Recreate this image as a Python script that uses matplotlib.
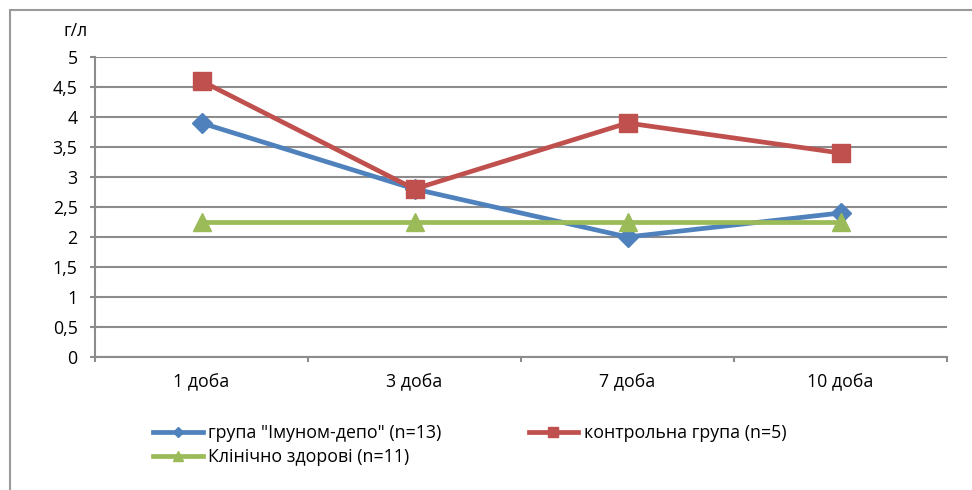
import matplotlib
matplotlib.use("Agg")
import matplotlib.pyplot as plt
from matplotlib.patches import Rectangle

categories = ["1 доба", "3 доба", "7 доба", "10 доба"]
imunom = [3.9, 2.8, 2.0, 2.4]
control = [4.6, 2.8, 3.9, 3.4]
healthy = [2.25, 2.25, 2.25, 2.25]
labels = ['група "Імуном-депо" (n=13)', 'контрольна група (n=5)', 'Клінічно здорові (n=11)']
yticks = [0, 0.5, 1, 1.5, 2, 2.5, 3, 3.5, 4, 4.5, 5]
ytick_labels = ["0", "0,5", "1", "1,5", "2", "2,5", "3", "3,5", "4", "4,5", "5"]

plt.rcParams['font.family'] = ['Open Sans', 'DejaVu Sans']
FS = 12.8

fig = plt.figure(figsize=(9.72, 4.9), dpi=100)
W, H = 972, 490
ax = fig.add_axes([95 / W, 1 - 357 / H, (947 - 95) / W, 300 / H])

grid_c = "#8c8c8c"
x = list(range(len(categories)))
blue, red, green = "#4F81BD", "#C0504D", "#9BBB59"
l1, = ax.plot(x, imunom, color=blue, lw=3.4, marker="D", ms=10, zorder=3)
l2, = ax.plot(x, control, color=red, lw=3.4, marker="s", ms=13, zorder=3)
l3, = ax.plot(x, healthy, color=green, lw=3.4, marker="^", ms=13, zorder=3)

ax.set_xlim(-0.5, len(categories) - 0.5)
ax.set_ylim(0, 5)
ax.set_yticks(yticks)
ax.set_yticklabels(ytick_labels, fontsize=FS)
ax.set_xticks(x)
ax.set_xticklabels(categories, fontsize=FS)
ax.set_xticks([i - 0.5 for i in range(len(categories) + 1)], minor=True)
ax.tick_params(axis="x", which="major", length=0, pad=12)
ax.tick_params(axis="x", which="minor", length=3.6, color=grid_c, width=1.5)
ax.tick_params(axis="y", length=3.6, color=grid_c, width=1.5, pad=9)
ax.yaxis.grid(True, color=grid_c, lw=1.5)
ax.set_axisbelow(True)
for s in ["top", "right"]:
    ax.spines[s].set_visible(False)
for s in ["left", "bottom"]:
    ax.spines[s].set_color(grid_c)
    ax.spines[s].set_linewidth(1.5)

fig.text(76 / W, 1 - 31 / H, "г/л", fontsize=FS, ha="center", va="center")

fig.legend([l1, l3, l2], [labels[0], labels[2], labels[1]], ncol=2,
           loc="upper left", bbox_to_anchor=(137 / W, 1 - 408 / H),
           frameon=False, fontsize=FS, handlelength=2.8, handletextpad=0.3,
           columnspacing=4.9, labelspacing=0.33, markerscale=0.5)

fig.patches.append(Rectangle((10 / W, -0.1), 1.1, 1.1 - 10 / H,
                             transform=fig.transFigure, fill=False,
                             edgecolor="#9a9a9a", lw=1.5))

fig.savefig("out.png", dpi=100)
